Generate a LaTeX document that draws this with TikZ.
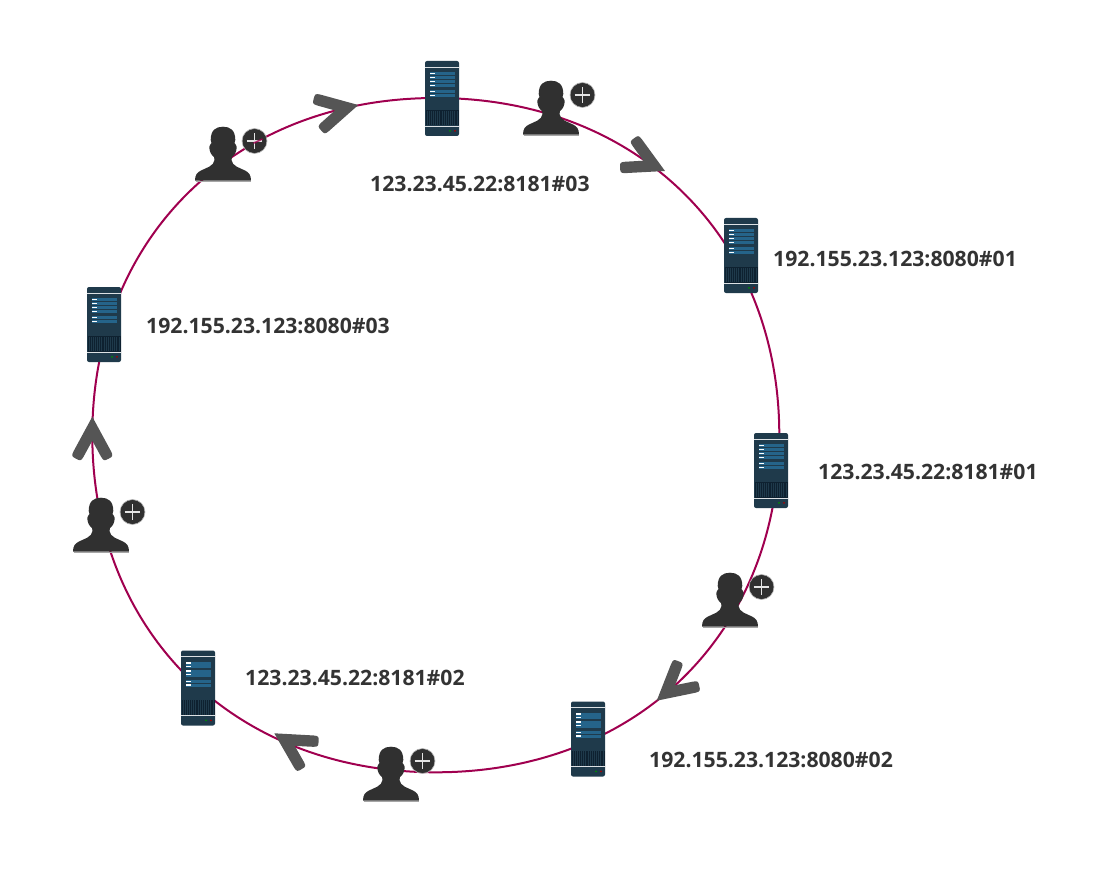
\documentclass[tikz,border=0pt]{standalone}
\usepackage{fontspec}
\setmainfont{Open Sans}
\definecolor{ringc}{HTML}{A0004F}
\definecolor{chev}{HTML}{555555}
\definecolor{srv}{HTML}{1F3A4B}
\definecolor{srvrow}{HTML}{25648A}
\definecolor{srvdark}{HTML}{0E2130}
\definecolor{usr}{HTML}{303030}
\definecolor{txt}{HTML}{333333}
\tikzset{
  x=1pt,y=-1pt,
  ring/.style={draw=ringc,line width=2pt},
  lab/.style={font=\bfseries\fontsize{21.2}{24}\selectfont,text=txt,inner sep=0pt,anchor=west},
  pics/chevron/.style={code={
    \fill[chev] (0,0) -- (-18.7,34.5) .. controls (-21.3,39.3) and (-20,40) .. (-16.5,41.9)
      -- (-16.1,42.1) .. controls (-12.5,44) and (-11.3,44.7) .. (-8.7,39.9)
      -- (0,24)
      -- (8.7,39.9) .. controls (11.3,44.7) and (12.5,44) .. (16.1,42.1)
      -- (16.5,41.9) .. controls (20,40) and (21.3,39.3) .. (18.7,34.5) -- cycle;
  }},
  pics/server/.style={code={
    \fill[srv,rounded corners=2pt] (-17,-37.5) rectangle (17,37.5);
    \fill[white!85!srv] (-17,-31.6) rectangle (17,-30.8);
    \fill[white!85!srv] (-17,27.4) rectangle (17,28.2);
    \foreach \y in {-26.5,-22.8,-18.5,-14.6,-8.2,-4.5}{
      \fill[srvrow] (-12,\y) rectangle (13,\y+3.1);
      \fill[white] (-12,\y+.9) rectangle (-7.5,\y+2);
    }
    \fill[srvdark] (-16.5,11.7) rectangle (16.5,27);
    \foreach \i in {0,...,14}{\fill[srv] (-15.5+2.15*\i,12.2) rectangle ++(.55,14.4);}
    \fill[green!55!black] (8,32.3) circle (1);
    \fill[red!65!black] (13,32.3) circle (1);
  }},
  pics/user/.style={code={
    \fill[usr] (-28,26.7) .. controls (-28,21) and (-26,18.5) .. (-22,16.5)
      .. controls (-17,14) and (-9,12) .. (-8.5,6)
      -- (-9,3) .. controls (-12,1) and (-13.7,-3) .. (-13.7,-7)
      .. controls (-13.7,-9) and (-12,-10) .. (-11.5,-11)
      -- (-12.3,-14)
      .. controls (-12.3,-24) and (-7,-27.3) .. (0,-27.3)
      .. controls (7,-27.3) and (12.3,-24) .. (12.3,-14)
      -- (11.5,-11)
      .. controls (12,-10) and (13.7,-9) .. (13.7,-7)
      .. controls (13.7,-3) and (12,1) .. (9,3)
      -- (8.5,6) .. controls (9,12) and (17,14) .. (22,16.5)
      .. controls (26,18.5) and (28,21) .. (28,26.7) -- cycle;
    \draw[gray!70,line width=.7pt] (-27.5,27) -- (27.5,27);
    \fill[usr] (31.5,-13) circle (12.3);
    \draw[gray!65,line width=.6pt] (31.5,-13) circle (12.5);
    \draw[white!90!black,line width=1.5pt] (23.7,-13) -- (39.3,-13) (31.5,-20.8) -- (31.5,-5.2);
  }}
}
\begin{document}
\begin{tikzpicture}
\useasboundingbox (0,0) rectangle (1114,896);
\coordinate (ringR) at (779.3,435.15);
\coordinate (ringB) at (435.8,772.3);
\coordinate (ringL) at (92.3,435.15);
\coordinate (ringT) at (435.8,98);
% ring: four Bezier quadrants, slightly fuller than an ellipse
\draw[ring] (ringR)
  .. controls (779.3,632.75) and (637.1,772.3) .. (ringB)
  .. controls (234.5,772.3) and (92.3,632.75) .. (ringL)
  .. controls (92.3,237.55) and (234.5,98) .. (ringT)
  .. controls (637.1,98) and (779.3,237.55) .. cycle;
% chevrons
\path (358.3,105) pic[rotate=-76.9] {chevron};
\path (665,171) pic[rotate=-115.4] {chevron};
\path (656.7,700.7) pic[rotate=130.1] {chevron};
\path (274.3,733.3) pic[rotate=58.4] {chevron};
\path (92.3,416.7) pic {chevron};
% servers
\path (442,98.5) pic {server};
\path (741,255.5) pic {server};
\path (771,470.5) pic {server};
\path (588,739) pic {server};
\path (198,688) pic {server};
\path (104,324.5) pic {server};
% users
\path (551,108) pic {user};
\path (223,154) pic {user};
\path (101,525) pic {user};
\path (730,600) pic {user};
\path (391,774) pic {user};
% ring shows through one plus badge
\draw[ringc,line width=1.6pt,opacity=.8] (253.5,143.2) -- (262.5,139);
% labels
\node[lab] (l1) at (370,183.5) {123.23.45.22:8181\#03};
\node[lab] (l2) at (773,258.5) {192.155.23.123:8080\#01};
\node[lab] (l3) at (818,471.5) {123.23.45.22:8181\#01};
\node[lab] (l4) at (649,759.5) {192.155.23.123:8080\#02};
\node[lab] (l5) at (245,677.5) {123.23.45.22:8181\#02};
\node[lab] (l6) at (146,325.5) {192.155.23.123:8080\#03};
\end{tikzpicture}
\end{document}
